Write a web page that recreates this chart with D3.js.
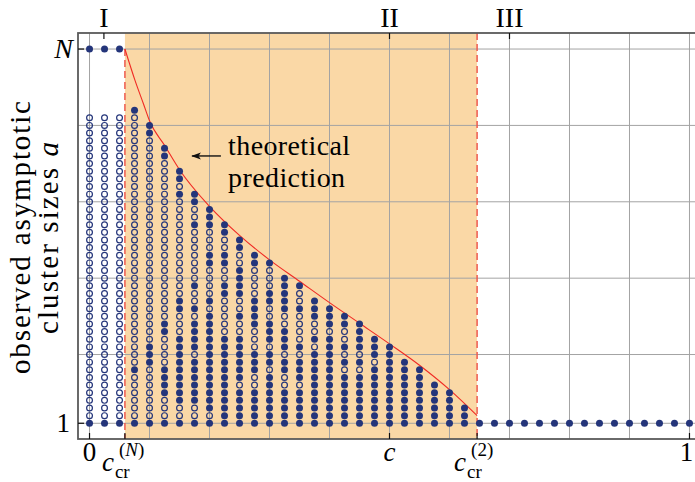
<!DOCTYPE html>
<html lang="en">
<head>
<meta charset="UTF-8">
<title>Asymptotic cluster sizes</title>
<style>
  body { margin: 0; background: #fff; }
  svg { display: block; font-family: "Liberation Serif", "DejaVu Serif", serif; }
</style>
</head>
<body>
<div id="chart"></div>
<script src="https://cdn.jsdelivr.net/npm/d3@7"></script>
<script>
  // columns of the simulation, x = c
  const colX = [0, 0.025, 0.05, 0.075, 0.1, 0.125, 0.15, 0.175, 0.2, 0.225,
    0.25, 0.275, 0.3, 0.325, 0.35, 0.375, 0.4, 0.425, 0.45, 0.475,
    0.5, 0.525, 0.55, 0.575, 0.6, 0.625, 0.65, 0.675, 0.7, 0.725,
    0.75, 0.775, 0.8, 0.825, 0.85, 0.875, 0.9, 0.925, 0.95, 0.975, 1];

  // per column, sizes a = 1, 2, 3 ... : 1 = observed (filled), 0 = open circle
  const colPattern = [
    "1000000000 0000000000 0000000000 0000000000 0",
    "1000000000 0000000000 0000000000 0000000000 0",
    "1000000000 0000000000 0000000000 0000000000 0",
    "1000000100 0000000000 0000000000 0000000000 01",
    "1000000011 1000000000 0000000000 0000000011",
    "1000111100 0011000000 0000000000 0000011",
    "1001111111 1100011000 0000000000 1011",
    "1001111110 1111010010 0000001001 1",
    "1011111111 1111101000 011000111",
    "1111111111 1100000110 0110011",
    "1111101111 1100100111 10011",
    "1111100111 0001111000 011",
    "1111111011 0111001100 01",
    "1111100110 1110011111",
    "1111101110 100001001",
    "1111111111 0100111",
    "1111111111 110111",
    "1111111010 10011",
    "1111111010 1111",
    "1111111101 11",
    "1111111111 1",
    "111111111",
    "11111111",
    "111111",
    "11111",
    "111",
    "1", "1", "1", "1", "1", "1", "1", "1", "1", "1", "1", "1", "1", "1", "1"
  ];

  // columns that also reach a single cluster of size N
  const N = 50;
  const colAtN = [0, 0.025, 0.05];

  // theoretical prediction
  const theoryX = [0.059, 0.0758, 0.09, 0.1, 0.125, 0.15, 0.2, 0.25, 0.3, 0.35, 0.4, 0.45, 0.5, 0.55, 0.6, 0.646];
  const theoryA = [50, 45.9, 42.8, 40.6, 37.4, 34.2, 29.4, 25.6, 22.4, 19.6, 16.8, 14.1, 11.4, 8.6, 5.4, 2.0];

  const cCrN = 0.059, cCr2 = 0.646, cMark = 0.5;
  const regionX = [0.024, 0.5, 0.7];
  const regionLabels = ["I", "II", "III"];
  const xGrid = [0, 0.1, 0.2, 0.3, 0.4, 0.5, 0.6, 0.7, 0.8, 0.9, 1];
  const yGrid = [1, 10, 20, 30, 40, 50];

  const width = 695, height = 482;
  const navy = "#24357a";

  const svg = d3.select("#chart").append("svg")
    .attr("width", width)
    .attr("height", height);

  const x = d3.scaleLinear().domain([-0.0192, 1.0192]).range([78, 701]);
  const y = d3.scaleLinear().domain([-1.06, 52.1]).range([439, 33]);

  // regime II shading
  svg.append("rect")
    .attr("x", x(cCrN)).attr("y", y(52.1))
    .attr("width", x(cCr2) - x(cCrN))
    .attr("height", y(-1.06) - y(52.1))
    .attr("fill", "#fad8a6");

  // grid
  svg.append("g").selectAll("line").data(xGrid).join("line")
    .attr("x1", d => x(d)).attr("x2", d => x(d))
    .attr("y1", y(52.1)).attr("y2", y(-1.06))
    .attr("stroke", "#a3a3a3").attr("stroke-width", 1);
  svg.append("g").selectAll("line").data(yGrid).join("line")
    .attr("x1", x(-0.0192)).attr("x2", x(1.0192))
    .attr("y1", d => y(d)).attr("y2", d => y(d))
    .attr("stroke", "#a3a3a3").attr("stroke-width", 1);

  // critical concentrations
  svg.append("line")
    .attr("x1", x(cCrN)).attr("x2", x(cCrN))
    .attr("y1", y(N)).attr("y2", y(-1.06))
    .attr("stroke", "#ee5a4e").attr("stroke-width", 1.5)
    .attr("stroke-dasharray", "7,4");
  svg.append("line")
    .attr("x1", x(cCr2)).attr("x2", x(cCr2))
    .attr("y1", y(52.1)).attr("y2", y(-1.06))
    .attr("stroke", "#ee5a4e").attr("stroke-width", 1.5)
    .attr("stroke-dasharray", "7,4");

  // theory curve
  const theory = theoryX.map((d, i) => ({ c: d, a: theoryA[i] }));
  svg.append("path")
    .datum(theory)
    .attr("fill", "none")
    .attr("stroke", "#f02a24")
    .attr("stroke-width", 1.1)
    .attr("d", d3.line().x(d => x(d.c)).y(d => y(d.a)).curve(d3.curveMonotoneX));

  // points
  const pts = [];
  colPattern.forEach((p, i) => {
    p.replace(/ /g, "").split("").forEach((v, k) => {
      pts.push({ c: colX[i], a: k + 1, filled: v === "1" });
    });
  });
  colAtN.forEach(c => pts.push({ c: c, a: N, filled: true }));

  svg.append("g").selectAll("circle").data(pts).join("circle")
    .attr("cx", d => x(d.c))
    .attr("cy", d => y(d.a))
    .attr("r", d => d.filled ? 3.5 : 2.9)
    .attr("fill", d => d.filled ? navy : "none")
    .attr("stroke", navy)
    .attr("stroke-width", d => d.filled ? 0 : 1.2);

  // frame
  svg.append("rect")
    .attr("x", x(-0.0192)).attr("y", y(52.1))
    .attr("width", x(1.0192) - x(-0.0192))
    .attr("height", y(-1.06) - y(52.1))
    .attr("fill", "none").attr("stroke", "#5a5a5a").attr("stroke-width", 1.8);

  // ticks
  const tick = svg.append("g").attr("stroke", "#111").attr("stroke-width", 1.2);
  [0, cCrN, cMark, cCr2, 1].forEach(d => {
    tick.append("line").attr("x1", x(d)).attr("x2", x(d))
      .attr("y1", y(-1.06)).attr("y2", y(-1.06) - 6);
  });
  regionX.forEach(d => {
    tick.append("line").attr("x1", x(d)).attr("x2", x(d))
      .attr("y1", y(52.1)).attr("y2", y(52.1) + 6);
  });
  [1, N].forEach(d => {
    tick.append("line").attr("x1", x(-0.0192)).attr("x2", x(-0.0192) + 6)
      .attr("y1", y(d)).attr("y2", y(d));
  });

  // tick labels
  const fs = 27;
  svg.append("text").attr("x", x(0)).attr("y", 461).attr("text-anchor", "middle")
    .attr("font-size", fs).text("0");
  svg.append("text").attr("x", x(1) - 3).attr("y", 461).attr("text-anchor", "middle")
    .attr("font-size", fs).text("1");
  svg.append("text").attr("x", x(cMark)).attr("y", 461).attr("text-anchor", "middle")
    .attr("font-size", fs).attr("font-style", "italic").text("c");

  // c_cr^(sup) as a single text with sub/superscript tspans
  const crit = (c, sup, supItalic) => {
    const t = svg.append("text").attr("x", x(c) - 23).attr("y", 471).attr("font-size", fs);
    t.append("tspan").attr("font-style", "italic").text("c");
    t.append("tspan").attr("x", x(c) - 10).attr("dy", 7).attr("font-size", 19).text("cr");
    const s = t.append("tspan").attr("x", x(c) - 6).attr("dy", -22).attr("font-size", 19);
    s.append("tspan").text("(");
    s.append("tspan").attr("font-style", supItalic ? "italic" : "normal").text(sup);
    s.append("tspan").text(")");
  };
  crit(cCrN, "N", true);
  crit(cCr2, "2", false);

  svg.append("text").attr("x", 70).attr("y", y(1) + 9).attr("text-anchor", "end")
    .attr("font-size", fs).text("1");
  svg.append("text").attr("x", 73).attr("y", y(N) + 9).attr("text-anchor", "end")
    .attr("font-size", 28).attr("font-style", "italic").text("N");

  svg.append("g").selectAll("text").data(regionLabels).join("text")
    .attr("x", (d, i) => x(regionX[i]))
    .attr("y", 27)
    .attr("text-anchor", "middle")
    .attr("font-size", 28)
    .text(d => d);

  // y axis title
  const yTitle = svg.append("g").attr("transform", "translate(0,238) rotate(-90)");
  yTitle.append("text").attr("x", -136).attr("y", 30)
    .attr("font-size", 29)
    .attr("textLength", 273).attr("lengthAdjust", "spacing")
    .text("observed asymptotic");
  const t2 = yTitle.append("text").attr("x", -96).attr("y", 58)
    .attr("font-size", 29)
    .attr("textLength", 192).attr("lengthAdjust", "spacing")
    .text("cluster sizes ");
  t2.append("tspan").attr("font-style", "italic").text("a");

  // annotation
  svg.append("text").attr("x", x(0.231)).attr("y", y(36.1)).attr("font-size", 28)
    .attr("textLength", 122).attr("lengthAdjust", "spacing")
    .text("theoretical");
  svg.append("text").attr("x", x(0.231)).attr("y", y(31.9)).attr("font-size", 28)
    .attr("textLength", 117).attr("lengthAdjust", "spacing")
    .text("prediction");
  svg.append("defs").append("marker")
    .attr("id", "head").attr("viewBox", "0 0 10 10")
    .attr("refX", 9).attr("refY", 5)
    .attr("markerWidth", 7).attr("markerHeight", 7)
    .attr("orient", "auto")
    .append("path").attr("d", "M0,1.5L10,5L0,8.5L2.5,5Z").attr("fill", "#111");
  svg.append("line")
    .attr("x1", x(0.219)).attr("x2", x(0.171))
    .attr("y1", y(36)).attr("y2", y(36))
    .attr("stroke", "#111").attr("stroke-width", 1.4)
    .attr("marker-end", "url(#head)");
</script>
</body>
</html>
